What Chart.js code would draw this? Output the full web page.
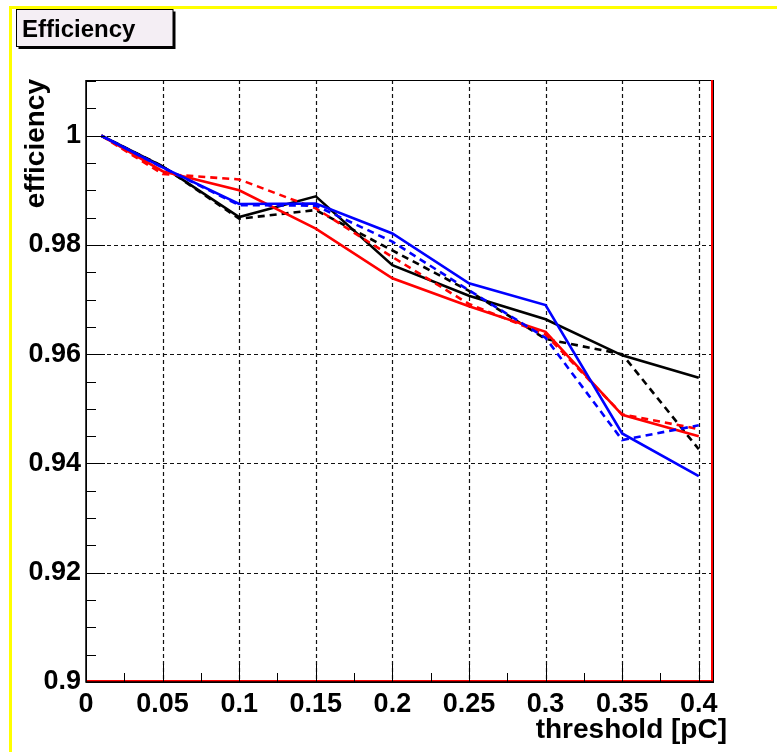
<!DOCTYPE html>
<html>
<head>
<meta charset="utf-8">
<title>Efficiency</title>
<script src="https://cdn.jsdelivr.net/npm/chart.js@4.4.1/dist/chart.umd.min.js"></script>
<style>
  html, body { margin: 0; padding: 0; background: #fff; }
  canvas { display: block; }
</style>
</head>
<body>
<canvas id="eff-chart" width="777" height="752"></canvas>
<script>
// Threshold scan points [pC]
const thresholds = [0.01, 0.05, 0.1, 0.15, 0.2, 0.25, 0.3, 0.35, 0.4];

// Efficiency curves
const effBlackSolid  = [1.0, 0.9944, 0.9851, 0.9889, 0.9763, 0.9707, 0.9664, 0.9598, 0.9557];
const effBlackDashed = [1.0, 0.9944, 0.9848, 0.9864, 0.9790, 0.9716, 0.9628, 0.9600, 0.9426];
const effRedSolid    = [1.0, 0.9935, 0.9900, 0.9830, 0.9739, 0.9688, 0.9641, 0.9489, 0.9450];
const effRedDashed   = [1.0, 0.9930, 0.9920, 0.9867, 0.9778, 0.9692, 0.9636, 0.9490, 0.9463];
const effBlueSolid   = [1.0, 0.9942, 0.9875, 0.9876, 0.9821, 0.9730, 0.9690, 0.9455, 0.9377];
const effBlueDashed  = [1.0, 0.9942, 0.9873, 0.9872, 0.9806, 0.9717, 0.9630, 0.9443, 0.9470];

// Axis ticks
const xTicks = [0, 0.05, 0.1, 0.15, 0.2, 0.25, 0.3, 0.35, 0.4];
const yTicks = [0.9, 0.92, 0.94, 0.96, 0.98, 1];

const FONT = "'Liberation Sans', Arial, Helvetica, sans-serif";
const X_MAX = 0.4093;
const Y_MAX = 1.0102;

function fmt(v) {
  return String(+Number(v).toFixed(3));
}

function series(values, color, dashed) {
  return {
    data: thresholds.map((x, i) => ({ x: x, y: values[i] })),
    borderColor: color,
    borderWidth: 2.6,
    borderDash: dashed ? [7, 5] : [],
    pointRadius: 0,
    tension: 0,
    fill: false
  };
}

// ROOT-style decorations: pad border, title box, dashed grid, inward ticks, frame
const rootStyle = {
  id: 'rootStyle',
  beforeDraw(chart) {
    const ctx = chart.ctx;
    ctx.save();
    ctx.fillStyle = '#fff';
    ctx.fillRect(0, 0, chart.width, chart.height);

    // yellow pad edges
    ctx.fillStyle = '#ffff00';
    ctx.fillRect(9, 6, chart.width - 9, 3);
    ctx.fillRect(9, 6, 3, chart.height - 6);

    // title box with shadow
    ctx.fillStyle = '#000';
    ctx.fillRect(18.5, 11.5, 157, 37.5);
    ctx.fillStyle = '#f4eef4';
    ctx.fillRect(16, 9, 157, 37.5);
    ctx.strokeStyle = '#000';
    ctx.lineWidth = 1;
    ctx.strokeRect(16.5, 9.5, 156.5, 37);
    ctx.fillStyle = '#000';
    ctx.font = 'bold 24px ' + FONT;
    ctx.textAlign = 'left';
    ctx.textBaseline = 'alphabetic';
    ctx.fillText('Efficiency', 22, 36.5);
    ctx.restore();
  },
  beforeDatasetsDraw(chart) {
    const ctx = chart.ctx;
    const a = chart.chartArea;
    const xs = chart.scales.x;
    const ys = chart.scales.y;
    ctx.save();
    ctx.strokeStyle = '#111';
    ctx.lineWidth = 1.2;
    ctx.setLineDash([4, 3]);
    xTicks.forEach(v => {
      if (v === xTicks[0]) return;
      const px = Math.round(xs.getPixelForValue(v)) + 0.5;
      ctx.beginPath();
      ctx.moveTo(px, a.top);
      ctx.lineTo(px, a.bottom);
      ctx.stroke();
    });
    yTicks.forEach(v => {
      if (v === yTicks[0]) return;
      const py = Math.round(ys.getPixelForValue(v)) + 0.5;
      ctx.beginPath();
      ctx.moveTo(a.left, py);
      ctx.lineTo(a.right, py);
      ctx.stroke();
    });
    ctx.restore();
  },
  afterDatasetsDraw(chart) {
    const ctx = chart.ctx;
    const a = chart.chartArea;
    const xs = chart.scales.x;
    const ys = chart.scales.y;
    ctx.save();

    // frame
    ctx.strokeStyle = '#000';
    ctx.lineWidth = 1;
    ctx.strokeRect(a.left + 0.5, a.top + 0.5, a.right - a.left, a.bottom - a.top);

    // red outline along bottom and right edge
    ctx.strokeStyle = '#ff0000';
    ctx.lineWidth = 2;
    ctx.beginPath();
    ctx.moveTo(a.left, a.bottom - 1);
    ctx.lineTo(a.right - 1, a.bottom - 1);
    ctx.lineTo(a.right - 1, a.top);
    ctx.stroke();

    // axis lines
    ctx.strokeStyle = '#000';
    ctx.lineWidth = 1.5;
    ctx.beginPath();
    ctx.moveTo(a.left, a.top);
    ctx.lineTo(a.left, a.bottom);
    ctx.lineTo(a.right, a.bottom);
    ctx.stroke();

    // inward ticks
    ctx.lineWidth = 1;
    ctx.beginPath();
    for (let v = 0; v <= X_MAX + 1e-9; v += 0.025) {
      const major = Math.abs(v / 0.05 - Math.round(v / 0.05)) < 1e-6;
      const px = Math.round(xs.getPixelForValue(v)) + 0.5;
      ctx.moveTo(px, a.bottom);
      ctx.lineTo(px, a.bottom - (major ? 18 : 9));
    }
    for (let v = 0.9; v <= Y_MAX + 1e-9; v += 0.005) {
      const major = Math.abs(v / 0.02 - Math.round(v / 0.02)) < 1e-6;
      const py = Math.round(ys.getPixelForValue(v)) + 0.5;
      ctx.moveTo(a.left, py);
      ctx.lineTo(a.left + (major ? 19 : 10), py);
    }
    ctx.stroke();

    // axis titles
    ctx.fillStyle = '#000';
    ctx.font = 'bold 28px ' + FONT;
    ctx.textAlign = 'right';
    ctx.textBaseline = 'alphabetic';
    ctx.fillText('threshold [pC]', 727, 738);

    ctx.translate(43.5, 79);
    ctx.rotate(-Math.PI / 2);
    ctx.fillText('efficiency', 0, 0);
    ctx.restore();
  }
};

const tickFont = { family: FONT, size: 27, weight: 'bold' };

new Chart(document.getElementById('eff-chart'), {
  type: 'line',
  data: {
    datasets: [
      series(effBlueDashed, '#0000ff', true),
      series(effBlueSolid, '#0000ff', false),
      series(effRedDashed, '#ff0000', true),
      series(effRedSolid, '#ff0000', false),
      series(effBlackDashed, '#000000', true),
      series(effBlackSolid, '#000000', false)
    ]
  },
  options: {
    responsive: false,
    animation: false,
    devicePixelRatio: 1,
    layout: { padding: { left: 0, top: 80, right: 64, bottom: 0 } },
    plugins: {
      legend: { display: false },
      tooltip: { enabled: false },
      title: { display: false }
    },
    scales: {
      x: {
        type: 'linear',
        min: 0,
        max: X_MAX,
        afterBuildTicks: s => { s.ticks = xTicks.map(v => ({ value: v })); },
        afterFit: s => { s.height = 70; s.paddingLeft = 0; s.paddingRight = 0; },
        grid: { display: false, drawTicks: false },
        border: { display: false },
        ticks: {
          font: tickFont,
          color: '#000',
          padding: 6,
          maxRotation: 0,
          autoSkip: false,
          callback: v => fmt(v)
        }
      },
      y: {
        type: 'linear',
        min: 0.9,
        max: Y_MAX,
        afterBuildTicks: s => { s.ticks = yTicks.map(v => ({ value: v })); },
        afterFit: s => { s.width = 86; s.paddingTop = 0; s.paddingBottom = 0; },
        grid: { display: false, drawTicks: false },
        border: { display: false },
        ticks: {
          font: tickFont,
          color: '#000',
          padding: 5,
          autoSkip: false,
          callback: v => fmt(v)
        }
      }
    }
  },
  plugins: [rootStyle]
});
</script>
</body>
</html>
